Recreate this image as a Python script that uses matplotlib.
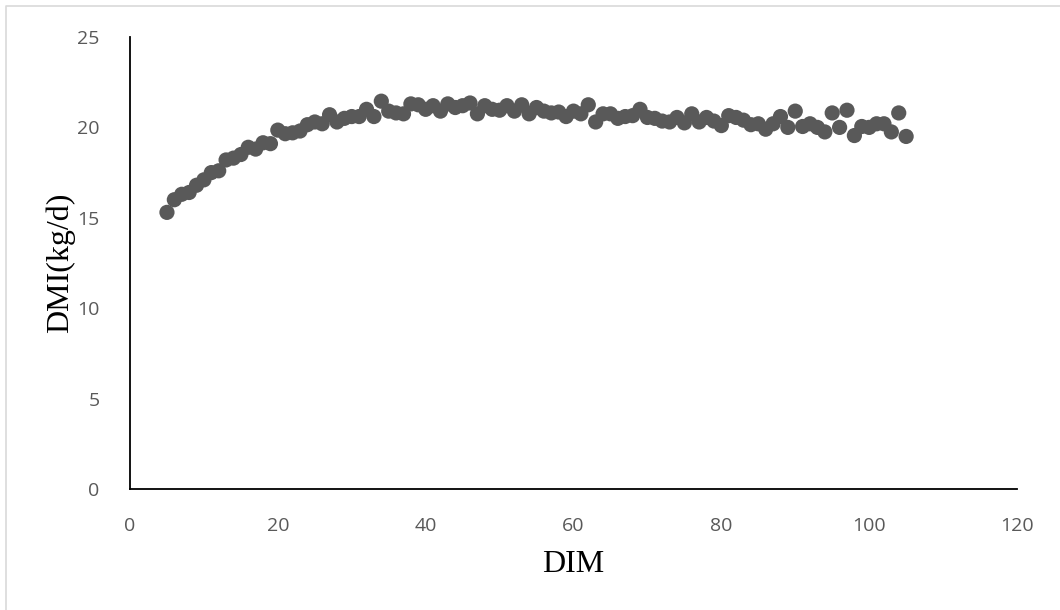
import numpy as np
from matplotlib import pyplot as plt
from matplotlib.lines import Line2D

# days in milk and dry matter intake
dim = list(range(5, 106))
dmi = [15.3, 16.0, 16.3, 16.4, 16.8, 17.1, 17.5, 17.6, 18.2, 18.3,
       18.5, 18.9, 18.8, 19.15, 19.1, 19.85, 19.65, 19.7, 19.8, 20.15,
       20.3, 20.2, 20.7, 20.3, 20.5, 20.6, 20.6, 21.0, 20.6, 21.45,
       20.9, 20.8, 20.75, 21.3, 21.25, 21.0, 21.2, 20.9, 21.3, 21.1,
       21.2, 21.35, 20.75, 21.2, 21.0, 20.95, 21.2, 20.9, 21.25, 20.75,
       21.1, 20.9, 20.8, 20.85, 20.6, 20.9, 20.75, 21.25, 20.3, 20.75,
       20.75, 20.5, 20.6, 20.65, 21.0, 20.55, 20.5, 20.35, 20.3, 20.55,
       20.25, 20.75, 20.3, 20.55, 20.35, 20.1, 20.65, 20.55, 20.4, 20.15,
       20.2, 19.9, 20.2, 20.6, 20.0, 20.9, 20.05, 20.2, 20.0, 19.75,
       20.8, 20.0, 20.95, 19.55, 20.05, 20.0, 20.2, 20.2, 19.75, 20.8,
       19.5]

xticks = [0, 20, 40, 60, 80, 100, 120]
yticks = [0, 5, 10, 15, 20, 25]

W, H = 1060, 610
fig = plt.figure(figsize=(W / 100, H / 100), dpi=100)
# light frame on the left and top edges, as in the source image
fig.lines.append(Line2D([6 / W, 6 / W, 1], [0, 1 - 6 / H, 1 - 6 / H], transform=fig.transFigure,
                        color="#d9d9d9", linewidth=1.2))

ax = fig.add_axes([130 / W, (H - 489) / H, (1017 - 130) / W, (489 - 37) / H])
ax.scatter(dim, dmi, s=120, color="#595959", edgecolors="none", zorder=3, clip_on=False)

ax.set_xlim(0, 120)
ax.set_ylim(0, 25)
ax.set_xticks(xticks)
ax.set_yticks(yticks)
for side in ["top", "right"]:
    ax.spines[side].set_visible(False)
for side in ["left", "bottom"]:
    ax.spines[side].set_linewidth(1.3)
    ax.spines[side].set_color("black")
ax.tick_params(length=0, labelsize=14, labelcolor="#595959")
ax.tick_params(axis="x", pad=20)
ax.tick_params(axis="y", pad=22)
for lab in ax.get_xticklabels() + ax.get_yticklabels():
    lab.set_family("Open Sans")

ax.set_xlabel("DIM", fontsize=23, family="Liberation Serif", labelpad=11)
ax.set_ylabel("DMI(kg/d)", fontsize=23, family="Liberation Serif", labelpad=1)

fig.savefig("out.png", dpi=100)
